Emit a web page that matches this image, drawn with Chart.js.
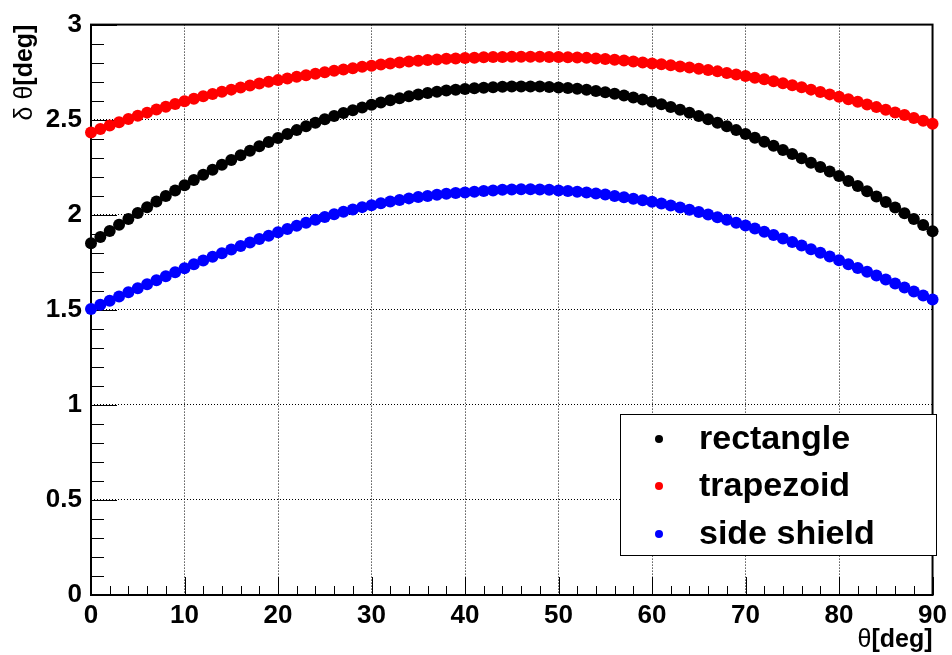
<!DOCTYPE html>
<html>
<head>
<meta charset="utf-8">
<script src="https://cdn.jsdelivr.net/npm/chart.js@4.4.0/dist/chart.umd.min.js"></script>
<style>
    body { margin: 0; background: #fff; }
    #wrap { position: relative; width: 952px; height: 655px; }
    #legend {
        position: absolute; left: 620px; top: 414px; width: 317px; height: 142px;
        box-sizing: border-box; border: 1px solid #000; background: #fff;
        font-family: 'Liberation Sans', Arial, sans-serif; font-weight: bold; font-size: 34px;
    }
    .row { position: absolute; left: 0; height: 48px; line-height: 48px; width: 100%; }
    .dot { position: absolute; left: 34px; top: 20px; width: 8px; height: 8px; border-radius: 50%; }
    .lbl { position: absolute; left: 78px; top: -2px; white-space: nowrap; color: #000; }
</style>
</head>
<body>
<div id="wrap">
    <canvas id="thetaChart" width="952" height="655"></canvas>
    <div id="legend"></div>
</div>
<script>
// theta [deg]
const angles = [
    0, 1, 2, 3, 4, 5, 6, 7, 8, 9,
    10, 11, 12, 13, 14, 15, 16, 17, 18, 19,
    20, 21, 22, 23, 24, 25, 26, 27, 28, 29,
    30, 31, 32, 33, 34, 35, 36, 37, 38, 39,
    40, 41, 42, 43, 44, 45, 46, 47, 48, 49,
    50, 51, 52, 53, 54, 55, 56, 57, 58, 59,
    60, 61, 62, 63, 64, 65, 66, 67, 68, 69,
    70, 71, 72, 73, 74, 75, 76, 77, 78, 79,
    80, 81, 82, 83, 84, 85, 86, 87, 88, 89, 90
];

// delta theta [deg]
const rectangle = [
    1.850, 1.883, 1.915, 1.947, 1.978, 2.009, 2.039, 2.069, 2.098, 2.127,
    2.155, 2.183, 2.210, 2.237, 2.263, 2.288, 2.313, 2.337, 2.360, 2.382,
    2.404, 2.425, 2.445, 2.465, 2.484, 2.502, 2.519, 2.535, 2.550, 2.564,
    2.578, 2.590, 2.602, 2.613, 2.623, 2.632, 2.640, 2.647, 2.653, 2.657,
    2.661, 2.665, 2.668, 2.671, 2.673, 2.674, 2.675, 2.675, 2.674, 2.672,
    2.669, 2.666, 2.662, 2.657, 2.651, 2.644, 2.636, 2.627, 2.617, 2.606,
    2.594, 2.581, 2.567, 2.552, 2.536, 2.519, 2.502, 2.484, 2.465, 2.445,
    2.425, 2.405, 2.384, 2.363, 2.341, 2.319, 2.297, 2.274, 2.251, 2.228,
    2.204, 2.178, 2.151, 2.124, 2.096, 2.067, 2.038, 2.008, 1.977, 1.946, 1.913
];

const trapezoid = [
    2.432, 2.451, 2.469, 2.487, 2.504, 2.521, 2.537, 2.553, 2.568, 2.583,
    2.597, 2.610, 2.623, 2.635, 2.647, 2.658, 2.669, 2.680, 2.690, 2.699,
    2.708, 2.717, 2.726, 2.734, 2.742, 2.750, 2.757, 2.764, 2.771, 2.778,
    2.784, 2.790, 2.796, 2.801, 2.806, 2.810, 2.814, 2.817, 2.820, 2.822,
    2.824, 2.826, 2.828, 2.829, 2.830, 2.831, 2.831, 2.831, 2.831, 2.830,
    2.829, 2.828, 2.827, 2.825, 2.822, 2.819, 2.815, 2.811, 2.806, 2.801,
    2.796, 2.791, 2.786, 2.780, 2.774, 2.768, 2.761, 2.754, 2.746, 2.738,
    2.730, 2.721, 2.712, 2.702, 2.692, 2.681, 2.670, 2.658, 2.646, 2.633,
    2.620, 2.607, 2.594, 2.580, 2.566, 2.552, 2.538, 2.524, 2.509, 2.494, 2.479
];

const sideShield = [
    1.504, 1.526, 1.548, 1.570, 1.592, 1.613, 1.634, 1.655, 1.676, 1.697,
    1.718, 1.739, 1.759, 1.779, 1.798, 1.817, 1.836, 1.854, 1.872, 1.890,
    1.908, 1.925, 1.942, 1.958, 1.973, 1.988, 2.002, 2.016, 2.028, 2.040,
    2.050, 2.060, 2.069, 2.078, 2.086, 2.093, 2.099, 2.105, 2.110, 2.114,
    2.117, 2.121, 2.125, 2.128, 2.131, 2.133, 2.134, 2.134, 2.133, 2.131,
    2.128, 2.125, 2.121, 2.117, 2.112, 2.106, 2.099, 2.092, 2.084, 2.076,
    2.068, 2.059, 2.049, 2.038, 2.026, 2.014, 2.001, 1.987, 1.973, 1.958,
    1.943, 1.927, 1.910, 1.893, 1.875, 1.857, 1.838, 1.819, 1.800, 1.780,
    1.760, 1.740, 1.720, 1.700, 1.680, 1.659, 1.638, 1.617, 1.596, 1.575, 1.554
];

const xTicks = [0, 10, 20, 30, 40, 50, 60, 70, 80, 90];
const yTicks = [0, 0.5, 1, 1.5, 2, 2.5, 3];

const FONT = "'Liberation Sans', Arial, sans-serif";

const toPoints = (vals) => angles.map((a, i) => ({ x: a, y: vals[i] }));

// ROOT-like frame, inner ticks and axis titles
const rootAxes = {
    id: 'rootAxes',
    beforeDatasetsDraw(chart) {
        const { ctx, chartArea: a, scales: { x, y } } = chart;
        ctx.save();
        ctx.strokeStyle = '#000';
        ctx.lineWidth = 1;
        ctx.beginPath();
        for (let v = 0; v <= 90; v += 2) {
            const px = Math.round(x.getPixelForValue(v)) + 0.5;
            const len = v % 10 === 0 ? 18 : 9;
            ctx.moveTo(px, a.bottom);
            ctx.lineTo(px, a.bottom - len);
        }
        for (let i = 0; i <= 30; i++) {
            const py = Math.round(y.getPixelForValue(i / 10)) + 0.5;
            const len = i % 5 === 0 ? 26 : 13;
            ctx.moveTo(a.left, py);
            ctx.lineTo(a.left + len, py);
        }
        ctx.stroke();
        ctx.lineWidth = 2;
        ctx.strokeRect(a.left, a.top, a.right - a.left, a.bottom - a.top);
        ctx.restore();
    },
    afterDraw(chart) {
        const { ctx, chartArea: a } = chart;
        ctx.save();
        ctx.fillStyle = '#000';
        ctx.textBaseline = 'alphabetic';

        // x title, right aligned to the frame
        ctx.font = 'bold 25px ' + FONT;
        const degW = ctx.measureText('[deg]').width;
        ctx.textAlign = 'left';
        ctx.fillText('[deg]', a.right - degW, 647);
        ctx.font = '25px ' + FONT;
        const thW = ctx.measureText('θ').width;
        ctx.fillText('θ', a.right - degW - thW, 647);

        // y title, rotated, ending at the top of the frame
        ctx.translate(32, a.top);
        ctx.rotate(-Math.PI / 2);
        ctx.font = 'bold 25px ' + FONT;
        const dW = ctx.measureText('[deg]').width;
        ctx.fillText('[deg]', -dW, 0);
        ctx.font = '25px ' + FONT;
        const pW = ctx.measureText('δ θ').width;
        ctx.fillText('δ θ', -dW - pW, 0);
        ctx.restore();
    }
};

const ctx = document.getElementById('thetaChart').getContext('2d');
const thetaChart = new Chart(ctx, {
    type: 'scatter',
    data: {
        datasets: [
            { label: 'rectangle', data: toPoints(rectangle), backgroundColor: '#000000' },
            { label: 'trapezoid', data: toPoints(trapezoid), backgroundColor: '#ff0000' },
            { label: 'side shield', data: toPoints(sideShield), backgroundColor: '#0000ff' }
        ]
    },
    options: {
        responsive: false,
        animation: false,
        events: [],
        clip: false,
        elements: { point: { radius: 6, borderWidth: 0, hoverRadius: 6 } },
        layout: { padding: { top: 21, right: 15, left: 0, bottom: 0 } },
        plugins: {
            legend: { display: false },
            tooltip: { enabled: false }
        },
        scales: {
            x: {
                type: 'linear', min: 0, max: 90,
                afterBuildTicks: (s) => { s.ticks = xTicks.map(v => ({ value: v })); },
                afterFit: (s) => { s.height = 60; },
                grid: { color: '#000', lineWidth: 1, drawTicks: false },
                border: { display: false, dash: [1, 2] },
                ticks: {
                    color: '#000', padding: 5, maxRotation: 0,
                    callback: (v) => String(v),
                    font: { family: FONT, size: 26, weight: 'bold' }
                }
            },
            y: {
                type: 'linear', min: 0, max: 3,
                afterBuildTicks: (s) => { s.ticks = yTicks.map(v => ({ value: v })); },
                afterFit: (s) => { s.width = 91; },
                grid: { color: '#000', lineWidth: 1, drawTicks: false },
                border: { display: false, dash: [1, 2] },
                ticks: {
                    color: '#000', padding: 9,
                    callback: (v) => String(v),
                    font: { family: FONT, size: 26, weight: 'bold' }
                }
            }
        }
    },
    plugins: [rootAxes]
});

// legend box drawn from the datasets
const legendEl = document.getElementById('legend');
const rowTops = [0, 47, 95];
thetaChart.data.datasets.forEach((ds, i) => {
    const row = document.createElement('div');
    row.className = 'row';
    row.style.top = rowTops[i] + 'px';
    const dot = document.createElement('span');
    dot.className = 'dot';
    dot.style.background = ds.backgroundColor;
    const lbl = document.createElement('span');
    lbl.className = 'lbl';
    lbl.textContent = ds.label;
    row.appendChild(dot);
    row.appendChild(lbl);
    legendEl.appendChild(row);
});
</script>
</body>
</html>
